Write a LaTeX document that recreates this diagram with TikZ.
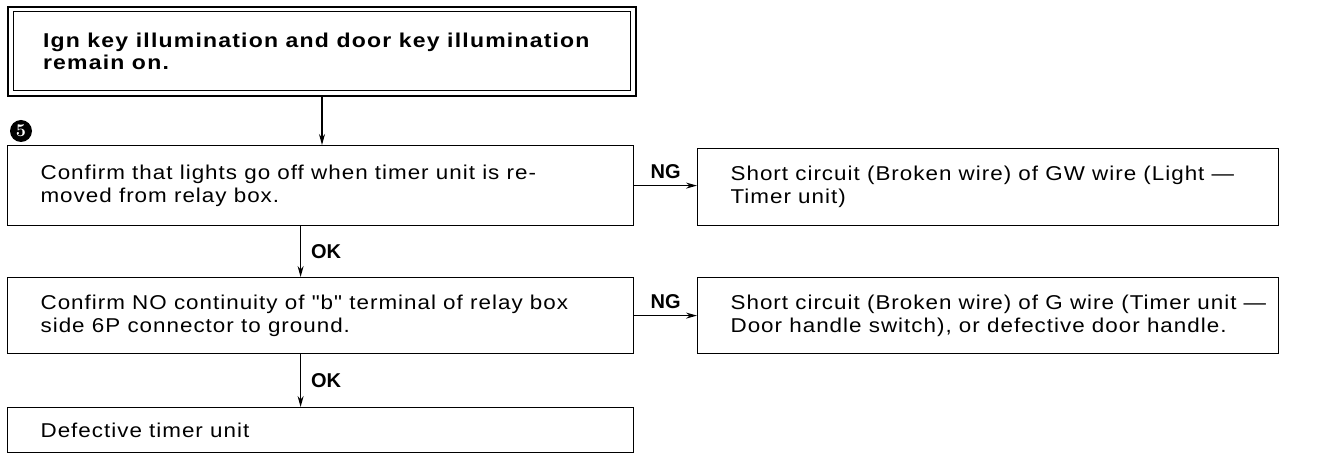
\documentclass[tikz,border=0pt]{standalone}
\usepackage{fontspec}
\setmainfont{Liberation Sans}
\newfontfamily\boxfont[FakeStretch=1.12,LetterSpace=5]{Liberation Sans}
\newfontfamily\titlefont[FakeStretch=1.15,LetterSpace=6]{Liberation Sans}
\usetikzlibrary{arrows.meta,calc,positioning}
\newcommand\bxt[2]{\hspace*{33bp}\parbox{\dimexpr#1-33bp\relax}{\raggedright #2}}
\begin{document}
\begin{tikzpicture}[x=1bp,y=-1bp,
  box/.style={draw,line width=1.2bp,rectangle,anchor=north west,inner sep=0pt,
    font=\boxfont\fontsize{20bp}{23bp}\selectfont},
  lbl/.style={font=\bfseries\fontsize{20bp}{22bp}\selectfont,inner sep=0pt},
  conn/.style={line width=1.1bp,-{Stealth[length=11bp,width=6bp]}}]
\useasboundingbox (0,0) rectangle (1327,456);
% top box
\node[box,line width=2bp,minimum width=628bp,minimum height=89bp,
  font=\titlefont\bfseries\fontsize{20bp}{22bp}\selectfont] (top) at (7,6)
  {\hspace*{35bp}\parbox{593bp}{\raggedright Ign key illumination and door key illumination\\remain on.}};
\draw[line width=1bp] ($(top.north west)+(6,6)$) rectangle ($(top.south east)+(-7,-6)$);
% marker
\node[circle,fill=black,inner sep=0pt,minimum size=22bp,text=white,
  font=\fontspec{Latin Modern Roman}\bfseries\fontsize{18bp}{18bp}\selectfont] (m5) at (21,131) {5};
% left boxes
\node[box,minimum width=626bp,minimum height=80bp] (b2) at (7,145)
  {\bxt{626bp}{Confirm that lights go off when timer unit is re-\\moved from relay box.}};
\node[box,minimum width=626bp,minimum height=76bp] (b3) at (7,277)
  {\bxt{626bp}{Confirm NO continuity of "b" terminal of relay box\\side 6P connector to ground.}};
\node[box,minimum width=626bp,minimum height=45bp] (b4) at (7,407)
  {\bxt{626bp}{Defective timer unit}};
% right boxes
\node[box,minimum width=581bp,minimum height=77bp] (n1) at (697,148)
  {\bxt{581bp}{Short circuit (Broken wire) of GW wire (Light —\\Timer unit)}};
\node[box,minimum width=581bp,minimum height=76bp] (n2) at (697,277)
  {\bxt{581bp}{Short circuit (Broken wire) of G wire (Timer unit —\\Door handle switch), or defective door handle.}};
% connectors
\draw[conn] (top.south) -- (top.south |- b2.north);
\draw[conn] ([xshift=-20bp]b2.south) -- ([xshift=-20bp]b2.south |- b3.north)
  node[lbl,midway,right=10bp] (ok1) {OK};
\draw[conn] ([xshift=-20bp]b3.south) -- ([xshift=-20bp]b3.south |- b4.north)
  node[lbl,midway,right=10bp] (ok2) {OK};
\draw[conn] (b2.east) -- (b2.east -| n1.west)
  node[lbl,midway,above=6bp] (ng1) {NG};
\draw[conn] (b3.east) -- (b3.east -| n2.west)
  node[lbl,midway,above=6bp] (ng2) {NG};
\end{tikzpicture}
\end{document}
